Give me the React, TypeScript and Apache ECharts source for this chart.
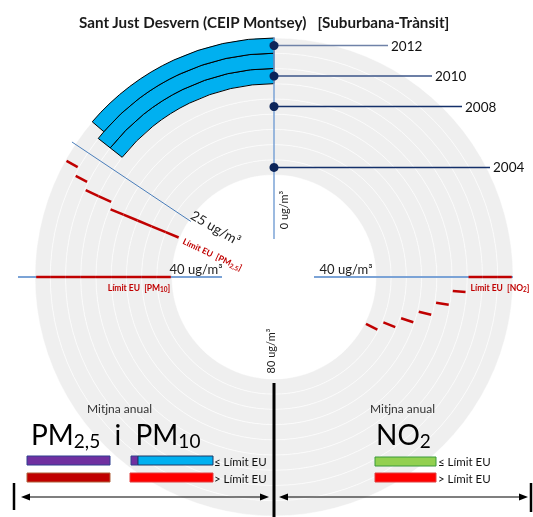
import React, { useEffect, useRef } from 'react';
import * as echarts from 'echarts';

// ---------- data ----------
const years = ['2004', '2005', '2006', '2007', '2008', '2009', '2010', '2011', '2012'];
const pm10Annual: (number | string)[] = ['-', '-', '-', '-', '-', '-', 23, 23, 22];
const pm25LimitEU = [30, 30, 30, 30, 30, 29, 29, 28, 27];
const pm10LimitEU = [40, 40, 40, 40, 40, 40, 40, 40, 40];
const no2LimitEU = [52, 50, 48, 46, 44, 42, 40, 40, 40];
const labelledYears = ['2004', '2008', '2010', '2012'];
const pmScaleMarks = [0, 25, 40, 80];
const no2ScaleMarks = [40];
const ANGLE_MAX = 160; // ug/m3 for a full turn (40 ug/m3 = 90 deg)

// ---------- layout ----------
const FONT = 'Lato, "Noto Sans", sans-serif';
const CX = 274;
const CY = 277;
const R0 = 102;
const R1 = 239;
const RED = '#c00000';
const AXIS_BLUE = '#7ba3d6';
const NAVY = '#14306a';
const LEADER: Record<string, number> = { '2004': 216, '2008': 188, '2010': 158, '2012': 114 };
const LEADER_COLOR: Record<string, string> = { '2004': NAVY, '2008': NAVY, '2010': '#3b5488', '2012': '#6f82a8' };

const no2Angle = (v: number) => ANGLE_MAX - v;
// text rotation (radians) so that text reads inward along the radial line of a PM value
const inwardRot = (v: number) => (v / ANGLE_MAX) * 2 * Math.PI - Math.PI / 2;

type RefLayout = {
  key: string; angle: number; rA?: number; rB?: number; color?: string; width?: number;
  text?: string; rich?: any; rT: number; ox: number; oy: number; rot: number;
  fontSize: number; fill: string;
};

const redRich = {
  r: { fontSize: 8.5, fontWeight: 'bold', fill: RED, color: RED, fontFamily: FONT, lineHeight: 10, verticalAlign: 'top' },
  s: { fontSize: 6.5, fontWeight: 'bold', fill: RED, color: RED, fontFamily: FONT, lineHeight: 8, padding: [4, 0, 0, 0], verticalAlign: 'bottom' },
};

const refLayouts: RefLayout[] = [
  { key: 'pm0', angle: pmScaleMarks[0], rA: 38, rB: 240, color: AXIS_BLUE, width: 1.5, text: '0 ug/m³', rT: 67, ox: 9, oy: 0, rot: Math.PI / 2, fontSize: 11, fill: '#222' },
  { key: 'pm25', angle: pmScaleMarks[1], rA: 100, rB: 243, color: '#4a7ebb', width: 1, text: '25 ug/m³', rT: 76, ox: 5, oy: -7, rot: inwardRot(pmScaleMarks[1]) + 0.06, fontSize: 13.5, fill: '#222' },
  { key: 'pm40', angle: pmScaleMarks[2], rA: 52, rB: 256, color: AXIS_BLUE, width: 2, text: '40 ug/m³', rT: 78, ox: 0, oy: -8, rot: 0, fontSize: 13, fill: '#222' },
  { key: 'pm80', angle: pmScaleMarks[3], rA: 106, rB: 242, color: '#000', width: 3, text: '80 ug/m³', rT: 74, ox: -4, oy: 0, rot: Math.PI / 2, fontSize: 11, fill: '#222' },
  { key: 'no240', angle: no2Angle(no2ScaleMarks[0]), rA: 40, rB: 239, color: AXIS_BLUE, width: 2, text: '40 ug/m³', rT: 72, ox: 0, oy: -8, rot: 0, fontSize: 13, fill: '#222' },
  { key: 'pm25lim', angle: pm25LimitEU[0], rich: '{r|Límit EU  [PM}{s|2,5}{r|]}', rT: 68, ox: 1, oy: 4, rot: -0.44, fontSize: 8.5, fill: RED },
  { key: 'pm10lim', angle: pm10LimitEU[0], rich: '{r|Límit EU  [PM}{s|10}{r|]}', rT: 135, ox: 0, oy: 11, rot: 0, fontSize: 8.5, fill: RED },
  { key: 'no2lim', angle: no2Angle(no2LimitEU[8]), rich: '{r|Límit EU  [NO}{s|2}{r|]}', rT: 226, ox: 0, oy: 11, rot: 0, fontSize: 8.5, fill: RED },
];

function limitRenderer(vals: number[], toAngle: (v: number) => number) {
  return (params: any, api: any) => {
    const i = params.dataIndex;
    const cs = params.coordSys;
    const p = api.coord([i, toAngle(vals[i])]);
    const dx = p[0] - cs.cx;
    const dy = p[1] - cs.cy;
    const rr = Math.hypot(dx, dy);
    const ux = dx / rr;
    const uy = dy / rr;
    const band = (cs.r - cs.r0) / years.length;
    const inner = i > 0 && vals[i - 1] === vals[i] ? band / 2 : band * 0.42;
    const outer = i < vals.length - 1 && vals[i + 1] === vals[i] ? band / 2 : band * 0.42;
    return {
      type: 'line',
      shape: {
        x1: cs.cx + ux * (rr - inner), y1: cs.cy + uy * (rr - inner),
        x2: cs.cx + ux * (rr + outer), y2: cs.cy + uy * (rr + outer),
      },
      style: { stroke: RED, lineWidth: 2.5 },
    };
  };
}

function limitSeries(name: string, vals: number[], toAngle: (v: number) => number) {
  return {
    name,
    type: 'custom',
    coordinateSystem: 'polar',
    data: vals.map((v, i) => [i, toAngle(v)]),
    renderItem: limitRenderer(vals, toAngle),
    silent: true,
    z: 6,
  };
}

function refRenderer(params: any, api: any) {
  const L = refLayouts[params.dataIndex];
  const cs = params.coordSys;
  const p = api.coord([0, L.angle]);
  const dx = p[0] - cs.cx;
  const dy = p[1] - cs.cy;
  const rr = Math.hypot(dx, dy);
  const ux = dx / rr;
  const uy = dy / rr;
  const children: any[] = [];
  if (L.rA != null && L.rB != null) {
    children.push({
      type: 'line',
      shape: { x1: cs.cx + ux * L.rA, y1: cs.cy + uy * L.rA, x2: cs.cx + ux * L.rB, y2: cs.cy + uy * L.rB },
      style: { stroke: L.color, lineWidth: L.width },
    });
  }
  children.push({
    type: 'text',
    x: cs.cx + ux * L.rT + L.ox,
    y: cs.cy + uy * L.rT + L.oy,
    rotation: L.rot,
    style: L.rich
      ? { text: L.rich, rich: redRich, align: 'center', verticalAlign: 'middle', fill: L.fill, fontFamily: FONT }
      : { text: L.text, fontSize: L.fontSize, fontFamily: FONT, fill: L.fill, align: 'center', verticalAlign: 'middle' },
  });
  return { type: 'group', children };
}

function yearRenderer(params: any, api: any) {
  const y = labelledYears[params.dataIndex];
  const p = api.coord([years.indexOf(y), 0]);
  const end = p[0] + LEADER[y];
  return {
    type: 'group',
    children: [
      { type: 'line', shape: { x1: p[0], y1: p[1], x2: end, y2: p[1] }, style: { stroke: LEADER_COLOR[y], lineWidth: 1.5 } },
      { type: 'circle', shape: { cx: p[0], cy: p[1], r: 4.5 }, style: { fill: '#0c255a' } },
      { type: 'text', x: end + 3, y: p[1], style: { text: y, fontSize: 13.5, fontFamily: FONT, fill: '#111', align: 'left', verticalAlign: 'middle' } },
    ],
  };
}

const bigRich = {
  b: { fontSize: 28, fontFamily: FONT, fill: '#000', color: '#000', lineHeight: 30, verticalAlign: 'top' },
  s: { fontSize: 19, fontFamily: FONT, fill: '#000', color: '#000', lineHeight: 20, padding: [13, 0, 0, 0], verticalAlign: 'bottom' },
};

function rect(x: number, y: number, w: number, h: number, fill: string, stroke: string) {
  return { type: 'rect', shape: { x, y, width: w, height: h }, style: { fill, stroke, lineWidth: 1 }, z: 20 };
}
function txt(x: number, y: number, text: string, size: number, extra: any = {}) {
  return { type: 'text', x, y, style: { text, fontSize: size, fontFamily: FONT, fill: '#111', verticalAlign: 'middle', ...extra }, z: 20 };
}
function tri(points: number[][]) {
  return { type: 'polygon', shape: { points }, style: { fill: '#000' }, z: 20 };
}
function ln(x1: number, y1: number, x2: number, y2: number, w: number) {
  return { type: 'line', shape: { x1, y1, x2, y2 }, style: { stroke: '#000', lineWidth: w }, z: 20 };
}

const option: any = {
  animation: false,
  title: {
    text: 'Sant Just Desvern (CEIP Montsey)   [Suburbana-Trànsit]',
    left: 74,
    top: 9,
    textStyle: { fontFamily: FONT, fontSize: 15.2, fontWeight: 'bold', color: '#1a1a1a' },
  },
  polar: { center: [CX, CY], radius: [R0, R1] },
  angleAxis: {
    type: 'value', min: 0, max: ANGLE_MAX, startAngle: 90, clockwise: false,
    axisLine: { show: false }, axisTick: { show: false }, axisLabel: { show: false }, splitLine: { show: false },
  },
  radiusAxis: {
    type: 'category', data: years,
    axisLine: { show: false }, axisTick: { show: false }, axisLabel: { show: false }, splitLine: { show: false },
  },
  series: [
    {
      name: 'fons', type: 'bar', coordinateSystem: 'polar', silent: true,
      data: years.map(() => ANGLE_MAX),
      barCategoryGap: '0%', barGap: '-100%',
      itemStyle: { color: '#efefef', borderColor: 'rgba(255,255,255,0.7)', borderWidth: 0.7 },
      z: 1,
    },
    {
      name: 'PM10', type: 'bar', coordinateSystem: 'polar',
      data: pm10Annual,
      barCategoryGap: '0%', barGap: '-100%',
      itemStyle: { color: '#00b0f0', borderColor: '#000', borderWidth: 1 },
      z: 3,
    },
    limitSeries('Límit PM2,5', pm25LimitEU, (v) => v),
    limitSeries('Límit PM10', pm10LimitEU, (v) => v),
    limitSeries('Límit NO2', no2LimitEU, no2Angle),
    {
      name: 'escales', type: 'custom', coordinateSystem: 'polar', silent: true,
      data: refLayouts.map((L) => [0, L.angle]),
      renderItem: refRenderer,
      z: 5,
    },
    {
      name: 'anys', type: 'custom', coordinateSystem: 'polar', silent: true,
      data: labelledYears.map((y) => [years.indexOf(y), 0]),
      renderItem: yearRenderer,
      z: 8,
    },
  ],
  graphic: [
    txt(87, 408, 'Mitjna anual', 12, { fill: '#333' }),
    txt(370, 408, 'Mitjna anual', 12, { fill: '#333' }),
    {
      type: 'text', x: 31, y: 420, z: 20,
      style: { text: '{b|PM}{s|2,5}{b|  i  PM}{s|10}', rich: bigRich, fontFamily: FONT },
    },
    {
      type: 'text', x: 376, y: 420, z: 20,
      style: { text: '{b|NO}{s|2}', rich: bigRich, fontFamily: FONT },
    },
    rect(27, 456, 83, 9, '#7030a0', '#2f3f8f'),
    rect(27, 473, 83, 9, '#c00000', '#b0603a'),
    rect(131, 456, 7, 9, '#7030a0', '#2f3f8f'),
    rect(138, 456, 75, 9, '#00b0f0', '#1f3864'),
    rect(130, 473, 83, 9, '#ff0000', '#e04040'),
    txt(214, 461, '≤ Límit EU', 11.5),
    txt(214, 478, '> Límit EU', 11.5),
    rect(375, 457, 61, 9, '#92d050', '#3a9a3a'),
    rect(375, 473, 61, 9, '#ff0000', '#e04040'),
    txt(438, 461, '≤ Límit EU', 11.5),
    txt(438, 478, '> Límit EU', 11.5),
    ln(14, 483, 14, 510, 2.5),
    ln(531, 483, 531, 512, 2.5),
    ln(26, 497, 264, 497, 1.2),
    tri([[21, 497], [30, 493.5], [30, 500.5]]),
    tri([[269, 497], [260, 493.5], [260, 500.5]]),
    ln(284, 497, 523, 497, 1.2),
    tri([[279, 497], [288, 493.5], [288, 500.5]]),
    tri([[528, 497], [519, 493.5], [519, 500.5]]),
  ],
};

export default function App() {
  const ref = useRef<HTMLDivElement>(null);
  useEffect(() => {
    const chart = echarts.init(ref.current!, null, { renderer: 'svg' });
    chart.setOption(option);
    return () => chart.dispose();
  }, []);
  return <div ref={ref} style={{ position: 'fixed', left: 0, top: 0, width: 533, height: 517 }} />;
}
